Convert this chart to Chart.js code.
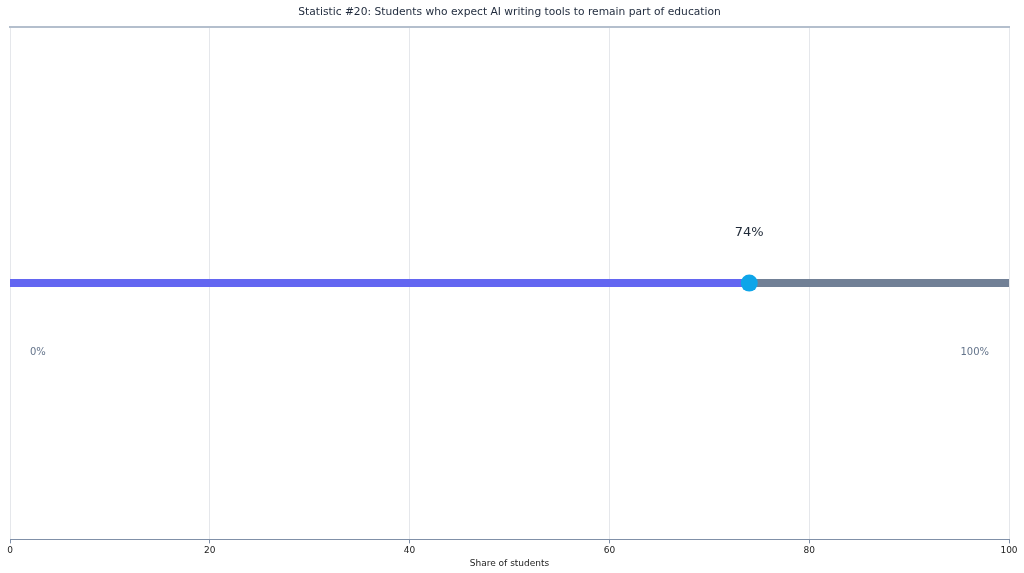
<!DOCTYPE html>
<html>
<head>
<meta charset="utf-8">
<script src="https://cdn.jsdelivr.net/npm/chart.js@4/dist/chart.umd.min.js"></script>
<style>
  html, body { margin: 0; padding: 0; background: #ffffff; }
  #wrap { width: 1024px; height: 573px; }
</style>
</head>
<body>
<div id="wrap"><canvas id="chart"></canvas></div>
<script>
// data
const chartTitle = 'Statistic #20: Students who expect AI writing tools to remain part of education';
const axisTitle = 'Share of students';
const shareValue = 74;
const scaleMin = 0;
const scaleMax = 100;
const endLabels = ['0%', '100%'];
const valueLabel = shareValue + '%';

// progress track: filled part, remaining part, marker
const filledTrack = [{ x: scaleMin, y: 0 }, { x: shareValue, y: 0 }];
const restTrack = [{ x: shareValue, y: 0 }, { x: scaleMax, y: 0 }];
const marker = [{ x: shareValue, y: 0 }];

const FONT = '"DejaVu Sans", sans-serif';

// text labels around the track
const labelPlugin = {
    id: 'trackLabels',
    afterDatasetsDraw(chart) {
        const ctx = chart.ctx;
        const xs = chart.scales.x;
        const ys = chart.scales.y;
        const yMid = ys.getPixelForValue(0);
        ctx.save();
        ctx.font = '13px ' + FONT;
        ctx.fillStyle = '#1f2937';
        ctx.textAlign = 'center';
        ctx.textBaseline = 'middle';
        ctx.fillText(valueLabel, xs.getPixelForValue(shareValue), yMid - 50);

        ctx.font = '10px ' + FONT;
        ctx.fillStyle = '#64748b';
        ctx.textAlign = 'left';
        ctx.fillText(endLabels[0], xs.getPixelForValue(scaleMin) + 20, yMid + 69);
        ctx.textAlign = 'right';
        ctx.fillText(endLabels[1], xs.getPixelForValue(scaleMax) - 20, yMid + 69);
        ctx.restore();
    }
};

new Chart(document.getElementById('chart'), {
    type: 'line',
    data: {
        datasets: [
            {
                data: filledTrack,
                order: 2,
                borderColor: '#6366f1',
                borderWidth: 8,
                pointRadius: 0,
                borderCapStyle: 'butt'
            },
            {
                data: restTrack,
                order: 2,
                borderColor: '#718096',
                borderWidth: 8,
                pointRadius: 0,
                borderCapStyle: 'butt'
            },
            {
                data: marker,
                order: 0,
                showLine: false,
                pointRadius: 8.5,
                pointBackgroundColor: '#0ea5e9',
                pointBorderColor: '#0ea5e9',
                pointBorderWidth: 0
            }
        ]
    },
    options: {
        responsive: true,
        maintainAspectRatio: false,
        animation: false,
        layout: { padding: { left: 10, right: 15, top: 6, bottom: 4 } },
        plugins: {
            legend: { display: false },
            tooltip: { enabled: false },
            title: {
                display: true,
                text: chartTitle,
                color: '#1e293b',
                font: { family: FONT, size: 10.7, weight: 'normal' },
                padding: { top: 0, bottom: 8 }
            }
        },
        scales: {
            x: {
                type: 'linear',
                position: 'bottom',
                min: scaleMin,
                max: scaleMax,
                ticks: {
                    stepSize: 20,
                    color: '#222222',
                    font: { family: FONT, size: 9 },
                    padding: 2
                },
                grid: {
                    color: '#e5e7eb',
                    tickLength: 4,
                    tickColor: '#8090a8'
                },
                border: { color: '#8090a8', width: 1 },
                title: {
                    display: true,
                    text: axisTitle,
                    color: '#222222',
                    font: { family: FONT, size: 9 },
                    padding: { top: 0, bottom: 0 }
                }
            },
            xTop: {
                type: 'linear',
                position: 'top',
                min: scaleMin,
                max: scaleMax,
                ticks: { display: false },
                grid: { drawOnChartArea: false, drawTicks: false },
                border: { color: '#b4bfcd', width: 2 }
            },
            y: {
                display: false,
                min: -1,
                max: 1
            }
        }
    },
    plugins: [labelPlugin]
});
</script>
</body>
</html>
